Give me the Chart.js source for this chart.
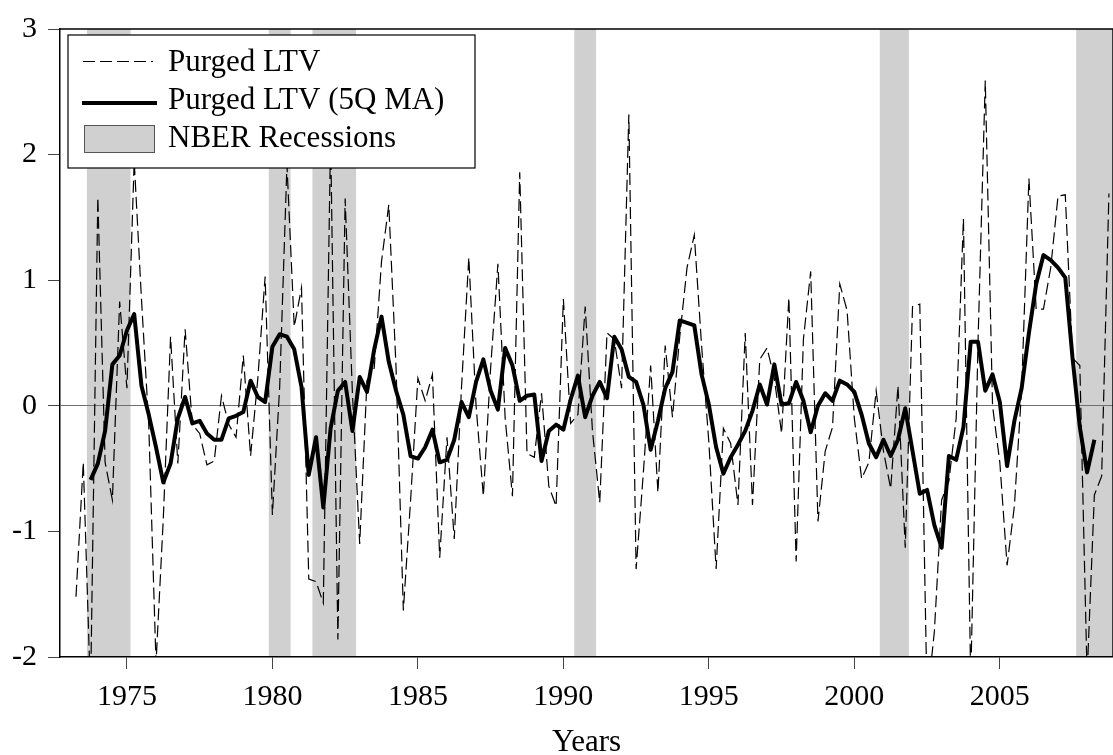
<!DOCTYPE html>
<html>
<head>
<meta charset="utf-8">
<title>Purged LTV</title>
<script src="https://cdn.jsdelivr.net/npm/chart.js@4.4.1/dist/chart.umd.min.js"></script>
<style>
  html, body { margin: 0; padding: 0; background: #fff; }
  #wrap { width: 1113px; height: 755px; }
</style>
</head>
<body>
<div id="wrap"><canvas id="ltvChart" width="1113" height="755"></canvas></div>
<script>
// Quarterly sample
const quarters = [
  '1973Q2','1973Q3','1973Q4',
  '1974Q1','1974Q2','1974Q3','1974Q4','1975Q1','1975Q2','1975Q3','1975Q4',
  '1976Q1','1976Q2','1976Q3','1976Q4','1977Q1','1977Q2','1977Q3','1977Q4',
  '1978Q1','1978Q2','1978Q3','1978Q4','1979Q1','1979Q2','1979Q3','1979Q4',
  '1980Q1','1980Q2','1980Q3','1980Q4','1981Q1','1981Q2','1981Q3','1981Q4',
  '1982Q1','1982Q2','1982Q3','1982Q4','1983Q1','1983Q2','1983Q3','1983Q4',
  '1984Q1','1984Q2','1984Q3','1984Q4','1985Q1','1985Q2','1985Q3','1985Q4',
  '1986Q1','1986Q2','1986Q3','1986Q4','1987Q1','1987Q2','1987Q3','1987Q4',
  '1988Q1','1988Q2','1988Q3','1988Q4','1989Q1','1989Q2','1989Q3','1989Q4',
  '1990Q1','1990Q2','1990Q3','1990Q4','1991Q1','1991Q2','1991Q3','1991Q4',
  '1992Q1','1992Q2','1992Q3','1992Q4','1993Q1','1993Q2','1993Q3','1993Q4',
  '1994Q1','1994Q2','1994Q3','1994Q4','1995Q1','1995Q2','1995Q3','1995Q4',
  '1996Q1','1996Q2','1996Q3','1996Q4','1997Q1','1997Q2','1997Q3','1997Q4',
  '1998Q1','1998Q2','1998Q3','1998Q4','1999Q1','1999Q2','1999Q3','1999Q4',
  '2000Q1','2000Q2','2000Q3','2000Q4','2001Q1','2001Q2','2001Q3','2001Q4',
  '2002Q1','2002Q2','2002Q3','2002Q4','2003Q1','2003Q2','2003Q3','2003Q4',
  '2004Q1','2004Q2','2004Q3','2004Q4','2005Q1','2005Q2','2005Q3','2005Q4',
  '2006Q1','2006Q2','2006Q3','2006Q4','2007Q1','2007Q2','2007Q3','2007Q4',
  '2008Q1','2008Q2','2008Q3','2008Q4'
];

// Purged LTV, quarterly
const ltv = [
  -1.52, -0.45, -2.3,
  1.66, -0.45, -0.75, 0.83,   0.14, 1.95, 0.85, -0.15,
  -2.05, -0.9, 0.55, -0.46,   0.61, -0.15, -0.22, -0.47,
  -0.44, 0.08, -0.15, -0.25,  0.4, -0.4, 0.22, 1.03,
  -0.87, 0.15, 1.92, 0.63,    0.94, -1.38, -1.4, -1.57,
  2.16, -1.86, 1.65, 0.1,     -1.1, 0.2, 0.3, 1.15,
  1.6, 0.3, -1.63, -0.75,     0.22, 0.04, 0.25, -1.21,
  -0.25, -1.06, 0.15, 1.18,   0.0, -0.72, 0.3, 1.13,
  -0.1, -0.72, 1.86, -0.38,   -0.41, 0.1, -0.64, -0.8,
  0.85, -0.14, -0.07, 0.79,   -0.2, -0.77, 0.58, 0.53,
  0.14, 2.32, -1.3, -0.53,    0.32, -0.69, 0.48, -0.09,
  0.55, 1.1, 1.36, 0.48,      -0.29, -1.3, -0.18, -0.3,
  -0.79, 0.58, -0.79, 0.37,   0.46, 0.22, -0.22, 0.86,
  -1.24, 0.53, 1.07, -0.92,   -0.36, -0.17, 0.97, 0.76,
  -0.1, -0.58, -0.45, 0.12,   -0.36, -0.66, 0.16, -1.13,
  0.79, 0.81, -2.35, -1.8,    -0.75, -0.6, -0.1, 1.49,
  -2.2, 0.5, 2.59, 0.0,       -0.45, -1.27, -0.8, 0.13,
  1.81, 0.77, 0.77, 1.1,      1.67, 1.68, 0.38, 0.32,
  -2.15, -0.71, -0.56, 1.69
];

// Centred five-quarter moving average (no value at the two ends)
const ltvMA = [
  null, null, -0.59,
  -0.46, -0.2, 0.33, 0.4,     0.6, 0.73, 0.16, -0.07,
  -0.33, -0.61, -0.46, -0.1,  0.07, -0.14, -0.12, -0.22,
  -0.27, -0.27, -0.1, -0.08,  -0.05, 0.2, 0.07, 0.03,
  0.47, 0.57, 0.55, 0.45,     0.15, -0.55, -0.25, -0.81,
  -0.18, 0.12, 0.19, -0.2,    0.23, 0.11, 0.45, 0.71,
  0.35, 0.12, -0.07, -0.4,    -0.42, -0.33, -0.19, -0.45,
  -0.43, -0.27, 0.03, -0.09,  0.19, 0.37, 0.12, -0.03,
  0.46, 0.32, 0.04, 0.08,     0.09, -0.44, -0.2, -0.15,
  -0.19, 0.05, 0.24, -0.09,   0.08, 0.19, 0.06, 0.55,
  0.45, 0.23, 0.19, 0.01,     -0.35, -0.12, 0.14, 0.27,
  0.68, 0.66, 0.64, 0.25,     0.01, -0.33, -0.54, -0.41,
  -0.31, -0.2, -0.04, 0.17,   0.01, 0.33, 0.01, 0.02,
  0.19, 0.04, -0.21, 0.0,     0.1, 0.04, 0.2, 0.17,
  0.11, -0.07, -0.3, -0.41,   -0.27, -0.4, -0.27, -0.02,
  -0.36, -0.7, -0.67, -0.95,  -1.13, -0.4, -0.43, -0.17,
  0.51, 0.51, 0.12, 0.25,     0.03, -0.48, -0.12, 0.14,
  0.58, 0.97, 1.2, 1.16,      1.1, 1.02, 0.38, -0.17,
  -0.53, -0.27, null, null
];

// NBER recession quarters (peak to trough, inclusive)
const recessionStart = ['1973Q4', '1980Q1', '1981Q3', '1990Q3', '2001Q1', '2007Q4'];
const recessionEnd   = ['1975Q1', '1980Q3', '1982Q4', '1991Q1', '2001Q4', '2008Q4'];
const recessionLabel = 'NBER Recessions';

const yearTicks = [1975, 1980, 1985, 1990, 1995, 2000, 2005];
const valueTicks = [-2, -1, 0, 1, 2, 3];

const serif = "'Liberation Serif', 'Times New Roman', Times, serif";

// '1985Q3' -> 1985.5
function toYear(q) {
    return parseInt(q.slice(0, 4)) + (parseInt(q.slice(5)) - 1) / 4;
}

function toPoints(values) {
    return values.map((v, i) => ({ x: toYear(quarters[i]), y: v }));
}

// white page + shaded recessions, under the grid so the zero line stays on top
const recessionBands = {
    id: 'recessionBands',
    beforeDraw(chart) {
        const { ctx, chartArea, scales: { x } } = chart;
        ctx.save();
        ctx.fillStyle = '#fff';
        ctx.fillRect(0, 0, chart.width, chart.height);
        ctx.fillStyle = '#d0d0d0';
        recessionStart.forEach((q, i) => {
            const x0 = x.getPixelForValue(toYear(q) - 0.125);
            const x1 = x.getPixelForValue(toYear(recessionEnd[i]) + 0.125);
            ctx.fillRect(x0, chartArea.top, x1 - x0, chartArea.bottom - chartArea.top);
        });
        ctx.restore();
    }
};

// top / right edges of the plot box
const plotFrame = {
    id: 'plotFrame',
    afterDatasetsDraw(chart) {
        const { ctx, chartArea } = chart;
        ctx.save();
        ctx.strokeStyle = '#000';
        ctx.lineWidth = 1.5;
        ctx.beginPath();
        ctx.moveTo(chartArea.left, chartArea.top);
        ctx.lineTo(chartArea.right, chartArea.top);
        ctx.lineTo(chartArea.right, chartArea.bottom);
        ctx.stroke();
        ctx.restore();
    }
};

// boxed legend in the upper-left corner of the plot
const legendBox = {
    id: 'legendBox',
    afterDraw(chart) {
        const { ctx, chartArea } = chart;
        const left = chartArea.left + 8, top = chartArea.top + 6;
        const w = 407, h = 133;
        const ds = chart.data.datasets;

        ctx.save();
        ctx.fillStyle = '#fff';
        ctx.fillRect(left, top, w, h);
        ctx.strokeStyle = '#000';
        ctx.lineWidth = 1.2;
        ctx.strokeRect(left, top, w, h);

        // dashed sample
        ctx.beginPath();
        ctx.setLineDash(ds[1].borderDash);
        ctx.lineWidth = ds[1].borderWidth;
        ctx.moveTo(left + 15, top + 26.5);
        ctx.lineTo(left + 85, top + 26.5);
        ctx.stroke();
        ctx.setLineDash([]);

        // thick sample
        ctx.beginPath();
        ctx.lineWidth = ds[0].borderWidth;
        ctx.moveTo(left + 14, top + 68);
        ctx.lineTo(left + 89, top + 68);
        ctx.stroke();

        // recession swatch
        ctx.fillStyle = '#d0d0d0';
        ctx.fillRect(left + 16, top + 90, 70, 27);
        ctx.strokeStyle = '#555';
        ctx.lineWidth = 1;
        ctx.strokeRect(left + 16.5, top + 90.5, 70, 27);

        ctx.fillStyle = '#000';
        ctx.font = '31px ' + serif;
        ctx.textBaseline = 'alphabetic';
        ctx.fillText(ds[1].label, left + 100, top + 35.5);
        ctx.fillText(ds[0].label, left + 100, top + 74);
        ctx.fillText(recessionLabel, left + 100, top + 111.5);
        ctx.restore();
    }
};

new Chart(document.getElementById('ltvChart'), {
    type: 'line',
    data: {
        datasets: [
            {
                label: 'Purged LTV (5Q MA)',
                data: toPoints(ltvMA),
                borderColor: '#000',
                borderWidth: 4,
                borderJoinStyle: 'round',
                pointRadius: 0,
                tension: 0,
                order: 0
            },
            {
                label: 'Purged LTV',
                data: toPoints(ltv),
                borderColor: '#000',
                borderWidth: 1.2,
                borderDash: [12, 5],
                pointRadius: 0,
                tension: 0,
                order: 1
            }
        ]
    },
    options: {
        responsive: false,
        devicePixelRatio: 1,
        animation: false,
        layout: { autoPadding: false, padding: { top: 23, left: 0, right: 0, bottom: 0 } },
        plugins: {
            legend: { display: false },
            tooltip: { enabled: false }
        },
        scales: {
            x: {
                type: 'linear',
                min: 1972.70,
                max: 2008.89,
                afterFit: s => { s.height = 98; },
                afterBuildTicks: s => { s.ticks = yearTicks.map(v => ({ value: v })); },
                border: { color: '#000', width: 1.5 },
                grid: { drawOnChartArea: false, tickLength: 12, tickColor: '#444', tickWidth: 1 },
                ticks: {
                    color: '#000',
                    padding: 10,
                    maxRotation: 0,
                    font: { family: serif, size: 30 },
                    callback: v => String(v)
                },
                title: {
                    display: true,
                    text: 'Years',
                    color: '#000',
                    font: { family: serif, size: 31 },
                    padding: { top: 0, bottom: -6 }
                }
            },
            y: {
                min: -2,
                max: 3,
                afterFit: s => { s.width = 60; },
                afterBuildTicks: s => { s.ticks = valueTicks.map(v => ({ value: v })); },
                border: { color: '#000', width: 1.5 },
                grid: {
                    color: c => (c.tick && c.tick.value === 0 ? '#707070' : 'rgba(0,0,0,0)'),
                    lineWidth: 1,
                    tickLength: 12,
                    tickColor: '#444',
                    tickWidth: 1
                },
                ticks: {
                    color: '#000',
                    padding: 11,
                    font: { family: serif, size: 30 },
                    callback: v => String(v)
                }
            }
        }
    },
    plugins: [recessionBands, plotFrame, legendBox]
});
</script>
</body>
</html>
